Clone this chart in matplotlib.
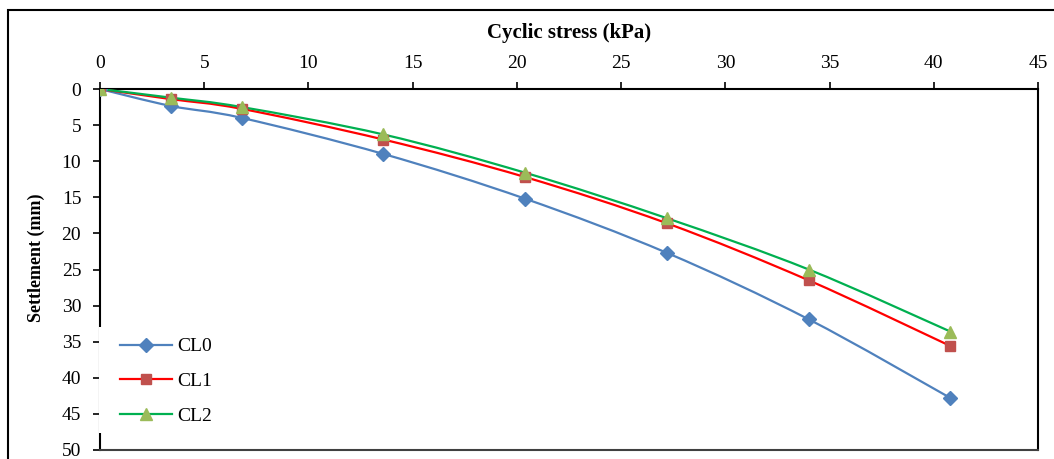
import numpy as np
import matplotlib
matplotlib.use("Agg")
import matplotlib.pyplot as plt
from matplotlib.path import Path
from matplotlib.patches import PathPatch, Rectangle
from matplotlib.lines import Line2D

plt.rcParams['font.family'] = ['Liberation Serif', 'DejaVu Serif']

# cyclic stress (kPa) and settlement (mm)
stress = [0, 3.4, 6.8, 13.6, 20.4, 27.2, 34.0, 40.8]
cl0 = [0, 2.35, 4.0, 9.0, 15.2, 22.7, 31.9, 42.8]
cl1 = [0, 1.4, 2.75, 7.0, 12.2, 18.6, 26.5, 35.6]
cl2 = [0, 1.2, 2.5, 6.3, 11.6, 17.9, 25.0, 33.6]
labels = ['CL0', 'CL1', 'CL2']


def smooth_path(x, y):
    # excel-like smoothed line: cubic bezier through every point
    p = np.column_stack([x, y]).astype(float)
    n = len(p)
    verts = [p[0]]
    codes = [Path.MOVETO]
    for i in range(n - 1):
        p0 = p[i - 1] if i > 0 else p[i]
        p3 = p[i + 2] if i + 2 < n else p[i + 1]
        c1 = p[i] + (p[i + 1] - p0) / 6.0
        c2 = p[i + 1] - (p3 - p[i]) / 6.0
        verts += [c1, c2, p[i + 1]]
        codes += [Path.CURVE4] * 3
    return Path(verts, codes)


W, H = 1054, 459
fig = plt.figure(figsize=(W / 100, H / 100), dpi=100)
ax = fig.add_axes([100 / W, 1 - 450 / H, 938 / W, 361 / H])

styles = [
    dict(line='#4F81BD', face='#4F81BD', marker='D', ms=7),
    dict(line='#FF0000', face='#C0504D', marker='s', ms=7.5),
    dict(line='#00B050', face='#9BBB59', marker='^', ms=8.5),
]

handles = []
for vals, lab, st in zip([cl0, cl1, cl2], labels, styles):
    ax.add_patch(PathPatch(smooth_path(stress, vals), fill=False,
                           edgecolor=st['line'], lw=1.6, zorder=3))
    ax.plot(stress, vals, linestyle='none', marker=st['marker'], ms=st['ms'],
            mfc=st['face'], mec=st['face'], zorder=4)
    handles.append(Line2D([], [], color=st['line'], lw=1.6, marker=st['marker'],
                          ms=st['ms'], mfc=st['face'], mec=st['face']))

ax.set_xlim(0, 45)
ax.set_ylim(50, 0)
ax.set_xticks(range(0, 46, 5))
ax.set_yticks(range(0, 51, 5))
ax.xaxis.tick_top()
ax.xaxis.set_label_position('top')
ax.tick_params(axis='both', direction='out', length=5, width=1.2, labelsize=14)
ax.tick_params(axis='x', pad=7.5)
ax.tick_params(axis='y', pad=8.5)
ax.set_xlabel('Cyclic stress (kPa)', fontsize=15, fontweight='bold', labelpad=12)
ax.set_ylabel('Settlement (mm)', fontsize=13, fontweight='bold')
ax.yaxis.set_label_coords(-55 / 938, (450 - 258) / 361)
for side in ['top', 'left', 'right']:
    ax.spines[side].set_linewidth(1.5)
    ax.spines[side].set_color('black')
ax.spines['bottom'].set_linewidth(1.5)
ax.spines['bottom'].set_color('#404040')

# white legend box hides part of the left axis line
fig.patches.append(Rectangle((99 / W, 1 - 433 / H), 4 / W, 106 / H,
                             transform=fig.transFigure, facecolor='white',
                             edgecolor='none', zorder=10))

leg = ax.legend(handles, labels, loc='upper left',
                bbox_to_anchor=(114 / W, 1 - 332 / H),
                bbox_transform=fig.transFigure, frameon=False,
                fontsize=14, handlelength=2.7, handletextpad=0.25,
                labelspacing=0.88, borderpad=0.3, borderaxespad=0)

# outer chart border
fig.patches.append(Rectangle((8 / W, -0.05), (1060 - 8) / W, 1 - 10 / H + 0.05,
                             transform=fig.transFigure, fill=False,
                             edgecolor='black', lw=1.5))

fig.savefig('out.png', dpi=100)
